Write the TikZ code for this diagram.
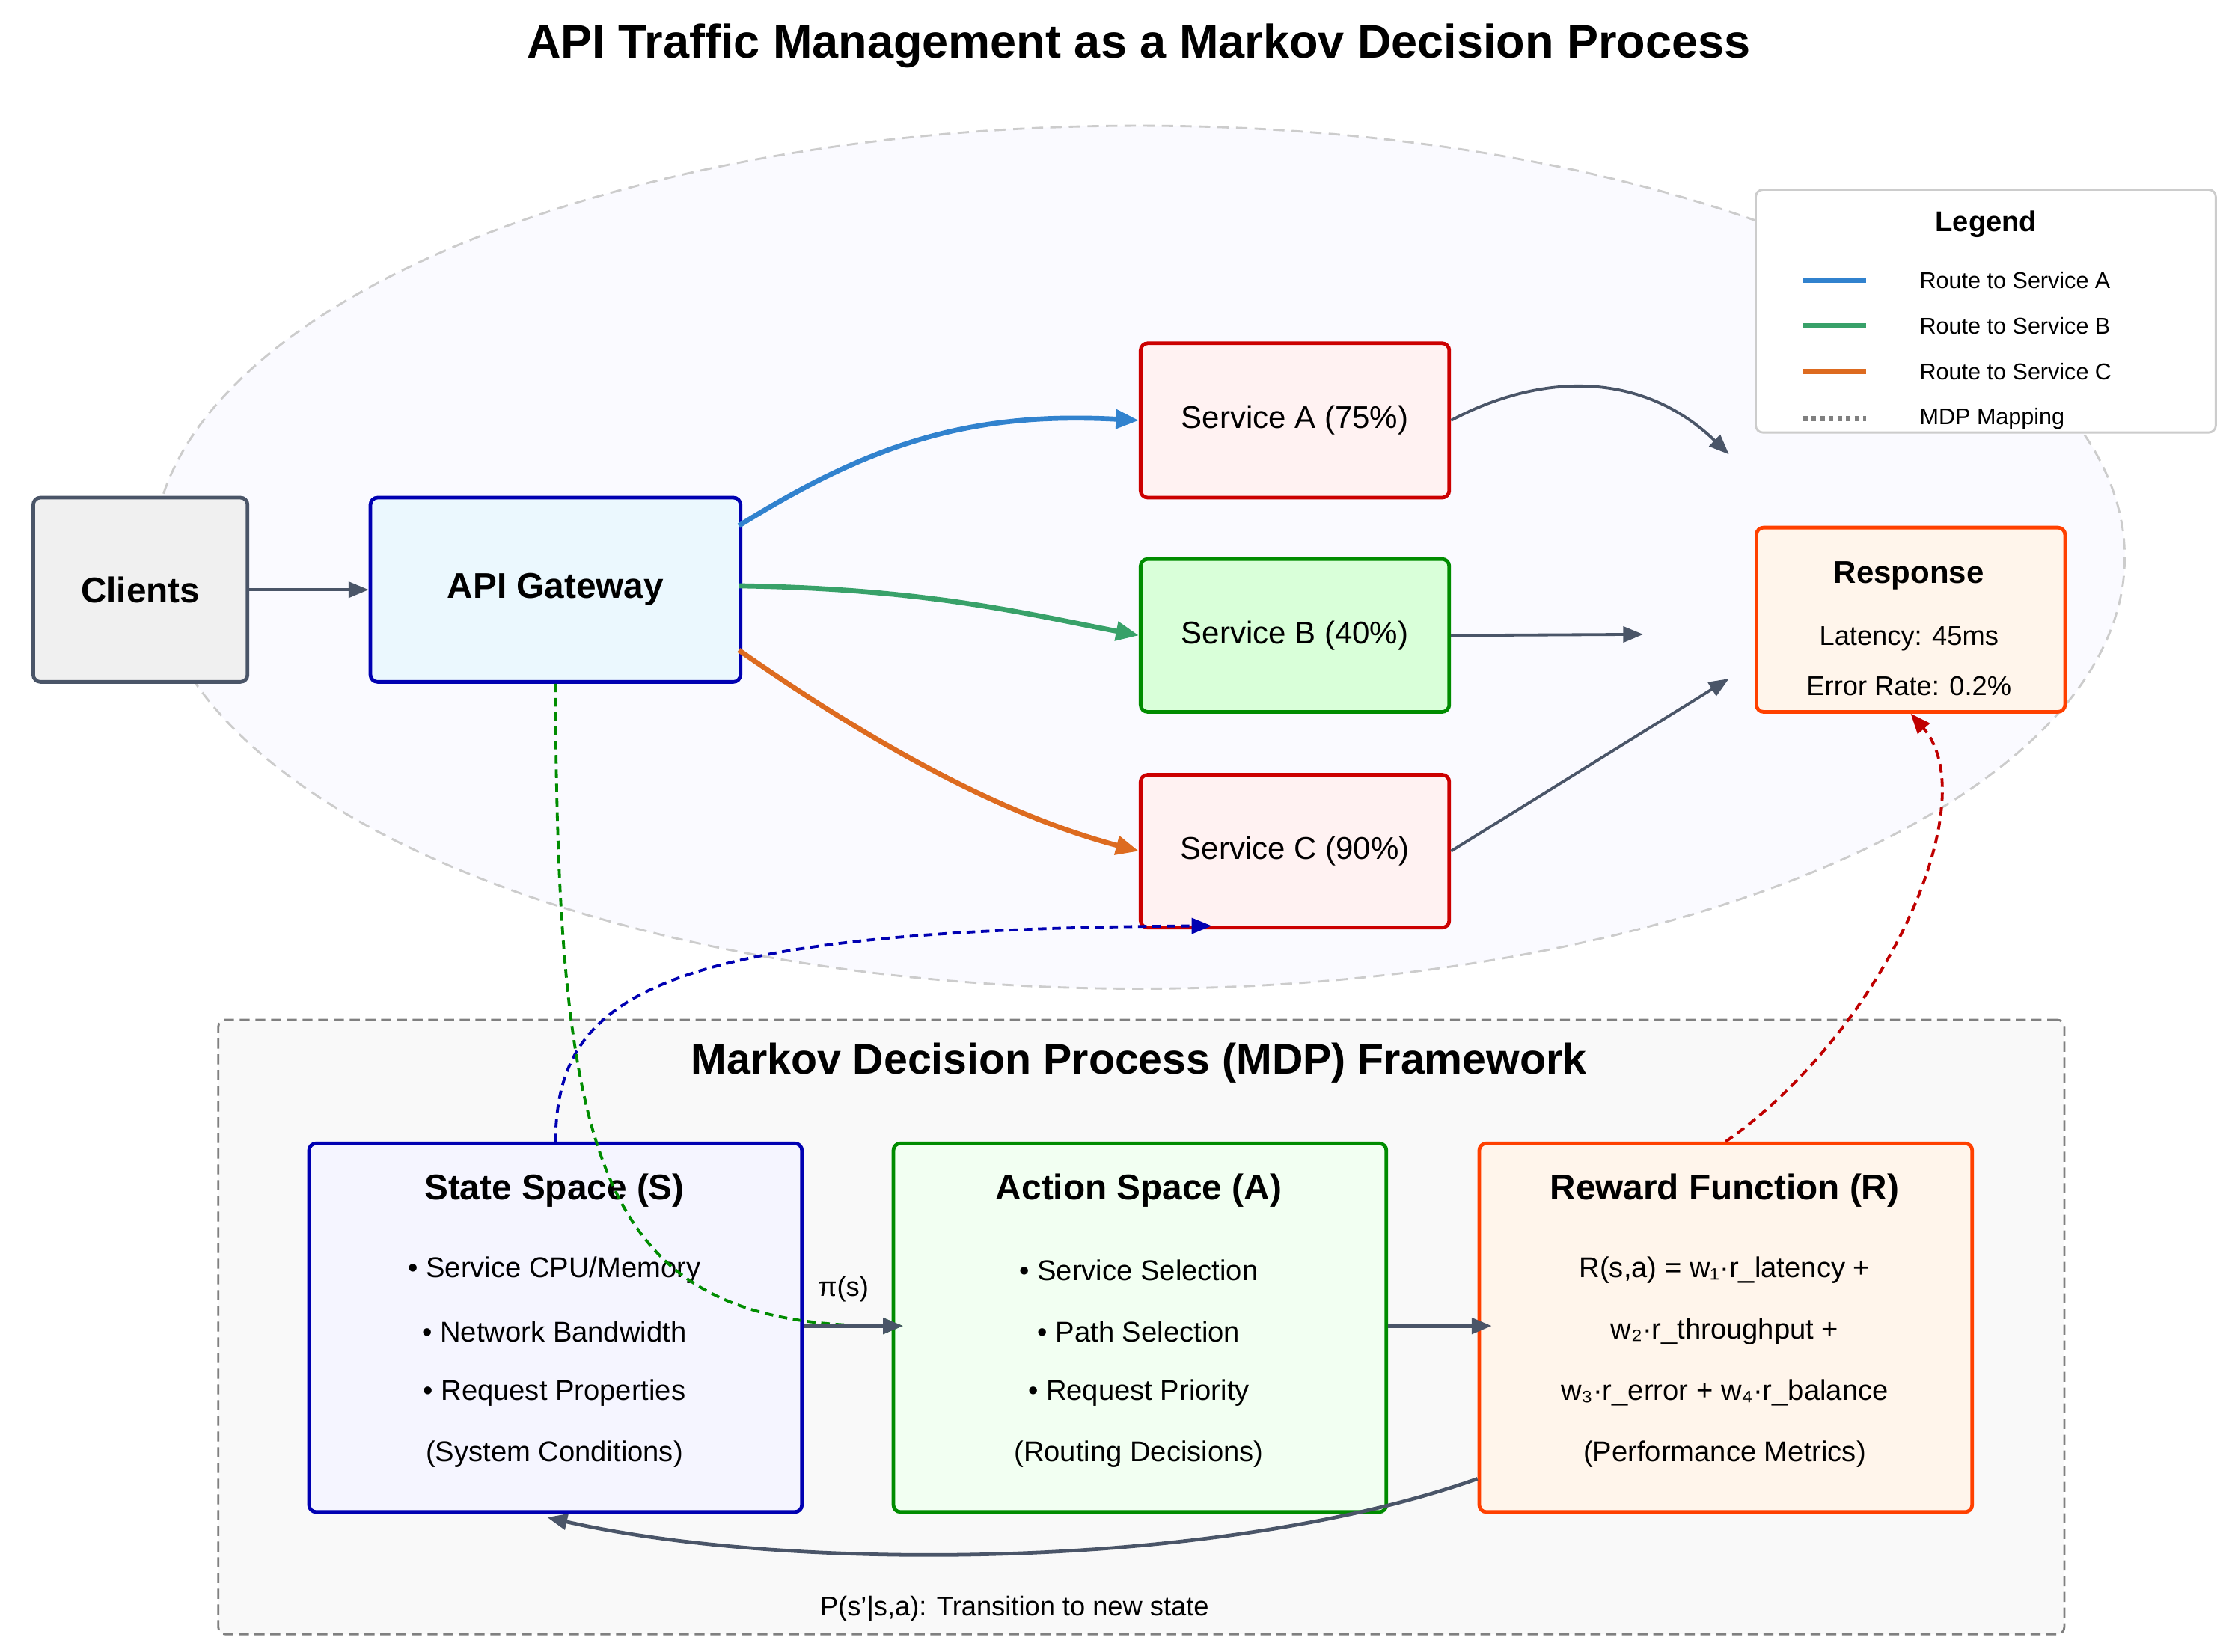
\documentclass[tikz,border=0pt]{standalone}
\usepackage{fontspec}
\setmainfont{Liberation Sans}
\usetikzlibrary{arrows.meta}
\definecolor{dk}{HTML}{4A5568}
\definecolor{bl}{HTML}{3182CE}
\definecolor{gr}{HTML}{38A169}
\definecolor{og}{HTML}{DD6B20}
\begin{document}
\begin{tikzpicture}[x=1pt,y=-1pt,
 box/.style={draw,line width=2.5pt,rounded corners=5pt,align=center,anchor=north west,inner sep=0pt},
 big/.style={-{Triangle[length=16pt,width=13pt]},line width=3.5pt},
 thin/.style={-{Triangle[length=14pt,width=11pt]},line width=2pt,dk},
 dsh/.style={dashed,line width=2pt,dash pattern=on 6pt off 4pt,-{Triangle[length=14pt,width=11pt]}},
 hd/.style={font=\bfseries\fontsize{25}{30}\selectfont},
 ln/.style={font=\fontsize{20}{24}\selectfont}]
\useasboundingbox (0,0) rectangle (1560,1156);
\fill[white] (0,0) rectangle (1560,1156);
\node[font=\bfseries\fontsize{33}{38}\selectfont] (title) at (797,32) {API Traffic Management as a Markov Decision Process};
\draw[fill=blue!2!white,draw=gray!40,dashed,line width=1.5pt,dash pattern=on 8pt off 5pt] (797,390) ellipse (690 and 302);
% legend
\node[box,draw=gray!40,line width=1.5pt,fill=white,minimum width=322pt,minimum height=170pt] (leg) at (1228,132) {};
\node[font=\bfseries\fontsize{20}{24}\selectfont] (legt) at (1390,157) {Legend};
\foreach \y/\c/\t/\d in {196/bl/Route to Service A/solid,228/gr/Route to Service B/solid,260/og/Route to Service C/solid,293/gray/MDP Mapping/dashed}{
 \draw[\c,line width=3.5pt,\d] (1262,\y) -- (1306,\y);
 \node[anchor=west,font=\fontsize{16}{19}\selectfont] at (1340,\y) {\t};}
% top nodes
\node[box,draw=dk,fill=gray!12,minimum width=150pt,minimum height=129pt,hd] (cl) at (22,347) {Clients};
\node[box,draw=blue!70!black,fill=cyan!8,minimum width=259pt,minimum height=129pt,hd] (gw) at (258,347) {API Gateway};
\node[box,draw=red!80!black,fill=red!5,minimum width=216pt,minimum height=108pt,font=\fontsize{22}{26}\selectfont] (sa) at (797,239) {Service A (75\%)};
\node[box,draw=green!55!black,fill=green!15,minimum width=216pt,minimum height=107pt,font=\fontsize{22}{26}\selectfont] (sb) at (797,390) {Service B (40\%)};
\node[box,draw=red!80!black,fill=red!5,minimum width=216pt,minimum height=107pt,font=\fontsize{22}{26}\selectfont] (sc) at (797,541) {Service C (90\%)};
\node[box,draw=orange!50!red,fill=orange!8,minimum width=216pt,minimum height=129pt] (rs) at (1228,368) {};
\node[font=\bfseries\fontsize{22}{26}\selectfont] (rst) at (1336,403) {Response};
\node[font=\fontsize{19}{23}\selectfont] (rs1) at (1336,447) {Latency: 45ms};
\node[font=\fontsize{19}{23}\selectfont] (rs2) at (1336,480) {Error Rate: 0.2\%};
\coordinate (ra) at (1210,318); \coordinate (rb) at (1150,444); \coordinate (rc) at (1210,475);
% MDP frame
\node[box,draw=gray,fill=gray!5,line width=1.5pt,dashed,dash pattern=on 7pt off 4pt,minimum width=1292pt,minimum height=430pt] (fr) at (152,713) {};
\node[font=\bfseries\fontsize{30}{36}\selectfont] (frt) at (797,744) {Markov Decision Process (MDP) Framework};
\node[box,draw=blue!70!black,fill=blue!4,minimum width=345pt,minimum height=258pt] (st) at (215,799) {};
\node[box,draw=green!55!black,fill=green!5,minimum width=345pt,minimum height=258pt] (ac) at (624,799) {};
\node[box,draw=orange!50!red,fill=orange!8,minimum width=345pt,minimum height=258pt] (rw) at (1034,799) {};
\node[hd] (st0) at (388,833) {State Space (S)};
\node[ln] (st1) at (388,889) {• Service CPU/Memory};
\node[ln] (st2) at (388,932) {• Network Bandwidth};
\node[ln] (st3) at (388,975) {• Request Properties};
\node[ln] (st4) at (388,1018) {(System Conditions)};
\node[hd] (ac0) at (797,833) {Action Space (A)};
\node[ln] (ac1) at (797,889) {• Service Selection};
\node[ln] (ac2) at (797,932) {• Path Selection};
\node[ln] (ac3) at (797,975) {• Request Priority};
\node[ln] (ac4) at (797,1018) {(Routing Decisions)};
\node[hd] (rw0) at (1207,833) {Reward Function (R)};
\node[ln] (rw1) at (1207,889) {R(s,a) = w₁·r\_latency +};
\node[ln] (rw2) at (1207,932) {w₂·r\_throughput +};
\node[ln] (rw3) at (1207,975) {w₃·r\_error + w₄·r\_balance};
\node[ln] (rw4) at (1207,1018) {(Performance Metrics)};
% arrows
\draw[thin] (cl.east) -- (gw.west);
\draw[big,bl] (517,368) .. controls (610,310) and (680,288) .. (sa.west);
\draw[big,gr] (517,410) .. controls (650,412) and (720,430) .. (sb.west);
\draw[big,og] (517,455) .. controls (610,520) and (700,570) .. (sc.west);
\draw[thin] (sa.east) .. controls (1080,260) and (1150,260) .. (ra);
\draw[thin] (sb.east) -- (rb);
\draw[thin] (sc.east) -- (rc);
\draw[dsh,blue!70!black] (st.north) .. controls (390,700) and (450,650) .. (848,648);
\draw[dsh,green!55!black] (gw.south) .. controls (390,820) and (420,928) .. (632,928);
\draw[dsh,red!75!black] (rw.north) .. controls (1320,720) and (1390,560) .. (rs.south);
\draw[thin,line width=2.5pt] (st.east |- 0,928) -- (632,928) node[pos=0.4,above=12pt,font=\fontsize{19}{23}\selectfont,black] {π(s)};
\draw[thin,line width=2.5pt] (ac.east |- 0,928) -- (1044,928);
\draw[thin,line width=2.5pt] (1034,1035) .. controls (850,1100) and (550,1100) .. (383,1062);
\node[font=\fontsize{19}{23}\selectfont] (pl) at (710,1126) {P(s'|s,a): Transition to new state};
\end{tikzpicture}
\end{document}
